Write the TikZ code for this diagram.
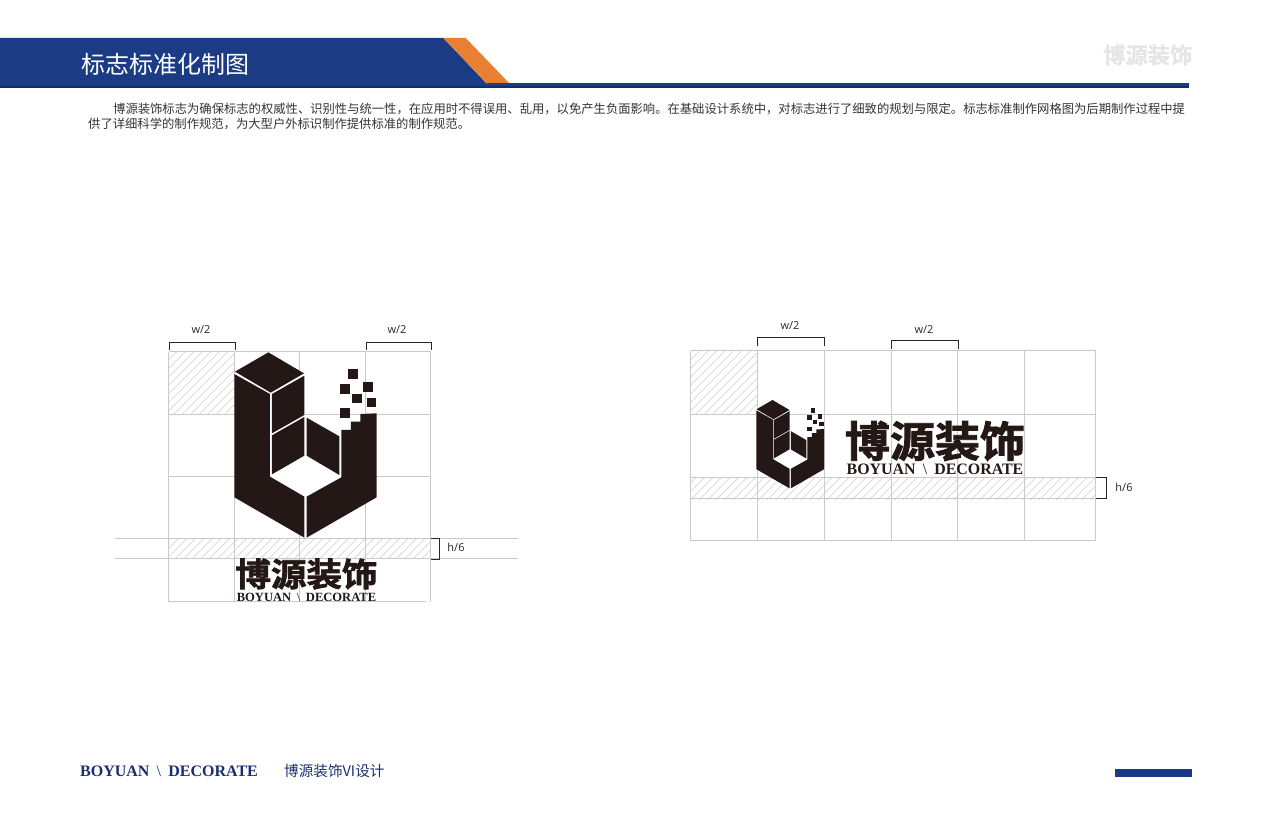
\documentclass[tikz,border=0pt]{standalone}
\usepackage{fontspec}
\setmainfont{Liberation Serif}
\newfontfamily\cjk{Noto Sans CJK SC}
\newfontfamily\cjkb[FakeBold=2]{Noto Sans CJK SC Bold}
\newfontfamily\cjkw[FakeBold=1]{Noto Sans CJK SC Bold}
\newfontfamily\sans{Open Sans}
\definecolor{band}{HTML}{1B3C84}
\definecolor{bandline}{HTML}{112B6B}
\definecolor{orangeb}{HTML}{E87F33}
\definecolor{inkb}{HTML}{231815}
\definecolor{gridc}{HTML}{C9C9C9}
\definecolor{hatchc}{HTML}{CCCCCC}
\definecolor{navy}{HTML}{1B2E6E}
\tikzset{
  gridl/.style={draw=gridc,line width=1.05pt},
  hatchl/.style={draw=hatchc,line width=0.5pt},
  brk/.style={draw=black!85,line width=0.75pt},
  lab/.style={font=\sans\fontsize{11}{12}\selectfont,text=black!85,inner sep=0pt},
  logop/.style={fill=inkb,draw=none},
  body/.style={font=\cjk\fontsize{12.32}{14}\selectfont,text=black!80,inner sep=0pt,anchor=west},
}
\newcommand{\brandname}{BOYUAN\hspace{.45em}{\mdseries\textbackslash}\hspace{.45em}DECORATE}
\newcommand{\logomark}[3]{%
 \begin{scope}[shift={(#1,#2)},x=#3pt,y=-#3pt]
  \fill[white] (28,87)--(130,22)--(238,85)--(238,210)--(343,270)--(349,397)--(245,578)--(28,457)--cycle;
  \fill[logop] (130,22)--(237,85)--(137,143)--(30,80)--cycle;
  \fill[logop] (28,87)--(135,147)--(135,395)--(238,455)--(238,578)--(28,457)--cycle;
  \fill[logop] (141,147)--(238,92)--(238,210)--(141,265)--cycle;
  \fill[logop] (141,271)--(238,216)--(238,332)--(141,388)--cycle;
  \fill[logop] (245,218)--(343,274)--(343,390)--(245,332)--cycle;
  \fill[logop] (245,455)--(349,397)--(349,255)--(378,255)--(378,230)--(406,230)--(406,207)--(455,205)--(455,457)--(245,578)--cycle;
  \foreach \cx/\cy in {385/87,361/133,430/126,397/161,440/173,361/204}
    \fill[logop] (\cx-14.5,\cy-14.5) rectangle (\cx+14.5,\cy+14.5);
 \end{scope}}
\begin{document}
\begin{tikzpicture}[x=1pt,y=-1pt]
\useasboundingbox (0,0) rectangle (1280,813);
% header
\fill[band] (0,38)--(443.3,38)--(487,84)--(487,87.5)--(0,87.5)--cycle;
\fill[orangeb] (443.3,38)--(465.7,38)--(509.5,83.5)--(487,83.5)--cycle;
\fill[band] (487,83.5) rectangle (1189,88);
\fill[bandline] (0,86.2) rectangle (1189,87.6);
\node[font=\cjk\fontsize{24}{26}\selectfont,text=white,inner sep=0pt,anchor=west] (title) at (81,64) {标志标准化制图};
\node[font=\cjkw\fontsize{22.3}{24}\selectfont,text=black!10,inner sep=0pt,anchor=west] (wm) at (1103,55) {博源装饰};
\node[body] (p1) at (113,109) {博源装饰标志为确保标志的权威性、识别性与统一性，在应用时不得误用、乱用，以免产生负面影响。在基础设计系统中，对标志进行了细致的规划与限定。标志标准制作网格图为后期制作过程中提};
\node[body] (p2) at (88,124) {供了详细科学的制作规范，为大型户外标识制作提供标准的制作规范。};
% left grid
\begin{scope}
 \clip (168.5,352) rectangle (234,414);
 \foreach \i in {0,...,24} \draw[hatchl] (100+\i*8.5,420)--(100+\i*8.5+80,340);
\end{scope}
\begin{scope}
 \clip (168.5,538) rectangle (430,558);
 \foreach \i in {0,...,36} \draw[hatchl] (140+\i*8.5,560)--(140+\i*8.5+24,536);
\end{scope}
\foreach \gx in {168.5,234.5,299.5,365.5,430.5} \draw[gridl] (\gx,351.5)--(\gx,601.5);
\foreach \gy in {351.5,414.5,476.5}  \draw[gridl] (168.5,\gy)--(430.5,\gy);
\draw[gridl] (168.5,601.5)--(426,601.5);
\draw[gridl] (115,538.5)--(518,538.5);
\draw[gridl] (115,558.5)--(518,558.5);
\logomark{225}{345}{0.3333}
\node[font=\cjkb\fontsize{35.5}{37}\selectfont,text=inkb,inner sep=0pt] (ln) at (306.5,574) {\scalebox{1}[0.92]{博源装饰}};
\node[font=\bfseries\fontsize{12.55}{13}\selectfont,text=inkb,inner sep=0pt] (le) at (306.5,597.5) {\brandname};
\draw[brk] (169,350)--(169,342)--(235,342)--(235,350);
\draw[brk] (366,350)--(366,342)--(431.5,342)--(431.5,350);
\draw[brk] (431,538)--(439.5,538)--(439.5,559)--(431,559);
\node[lab] (w1) at (201,330) {w/2};
\node[lab] (w2) at (397,330) {w/2};
\node[lab] (h1) at (456,547.5) {h/6};
% right grid
\begin{scope}
 \clip (690,351) rectangle (757,414);
 \foreach \i in {0,...,24} \draw[hatchl] (622+\i*8.5,420)--(622+\i*8.5+80,340);
\end{scope}
\begin{scope}
 \clip (690,477) rectangle (1095,499);
 \foreach \i in {0,...,52} \draw[hatchl] (664+\i*8.5,501)--(664+\i*8.5+26,475);
\end{scope}
\foreach \gx in {690.5,757.5,824.5,891.5,957.5,1024.5,1095.5} \draw[gridl] (\gx,350.5)--(\gx,540.5);
\foreach \gy in {350.5,414.5,477.5,498.5,540.5} \draw[gridl] (690.5,\gy)--(1095.5,\gy);
\logomark{751.8}{396.5}{0.159}
\node[font=\cjkb\fontsize{45}{47}\selectfont,text=inkb,inner sep=0pt] (rn) at (935,441) {\scalebox{1}[0.94]{博源装饰}};
\node[font=\bfseries\fontsize{15.9}{17}\selectfont,text=inkb,inner sep=0pt] (re) at (935,469.5) {\brandname};
\draw[brk] (757.5,346)--(757.5,337.5)--(824,337.5)--(824,346);
\draw[brk] (891.5,349)--(891.5,340.5)--(958,340.5)--(958,349);
\draw[brk] (1096,477.5)--(1106,477.5)--(1106,498.7)--(1096,498.7);
\node[lab] (w3) at (790,326) {w/2};
\node[lab] (w4) at (924,330) {w/2};
\node[lab] (h2) at (1124,487) {h/6};
% footer
\node[font=\bfseries\fontsize{16}{17}\selectfont,text=navy,inner sep=0pt,anchor=west] (f1) at (80,771) {\brandname};
\node[font=\cjk\fontsize{14.6}{16}\selectfont,text=navy,inner sep=0pt,anchor=west] (f2) at (284,771) {博源装饰VI设计};
\fill[band] (1115,769) rectangle (1192,777);
\end{tikzpicture}
\end{document}
